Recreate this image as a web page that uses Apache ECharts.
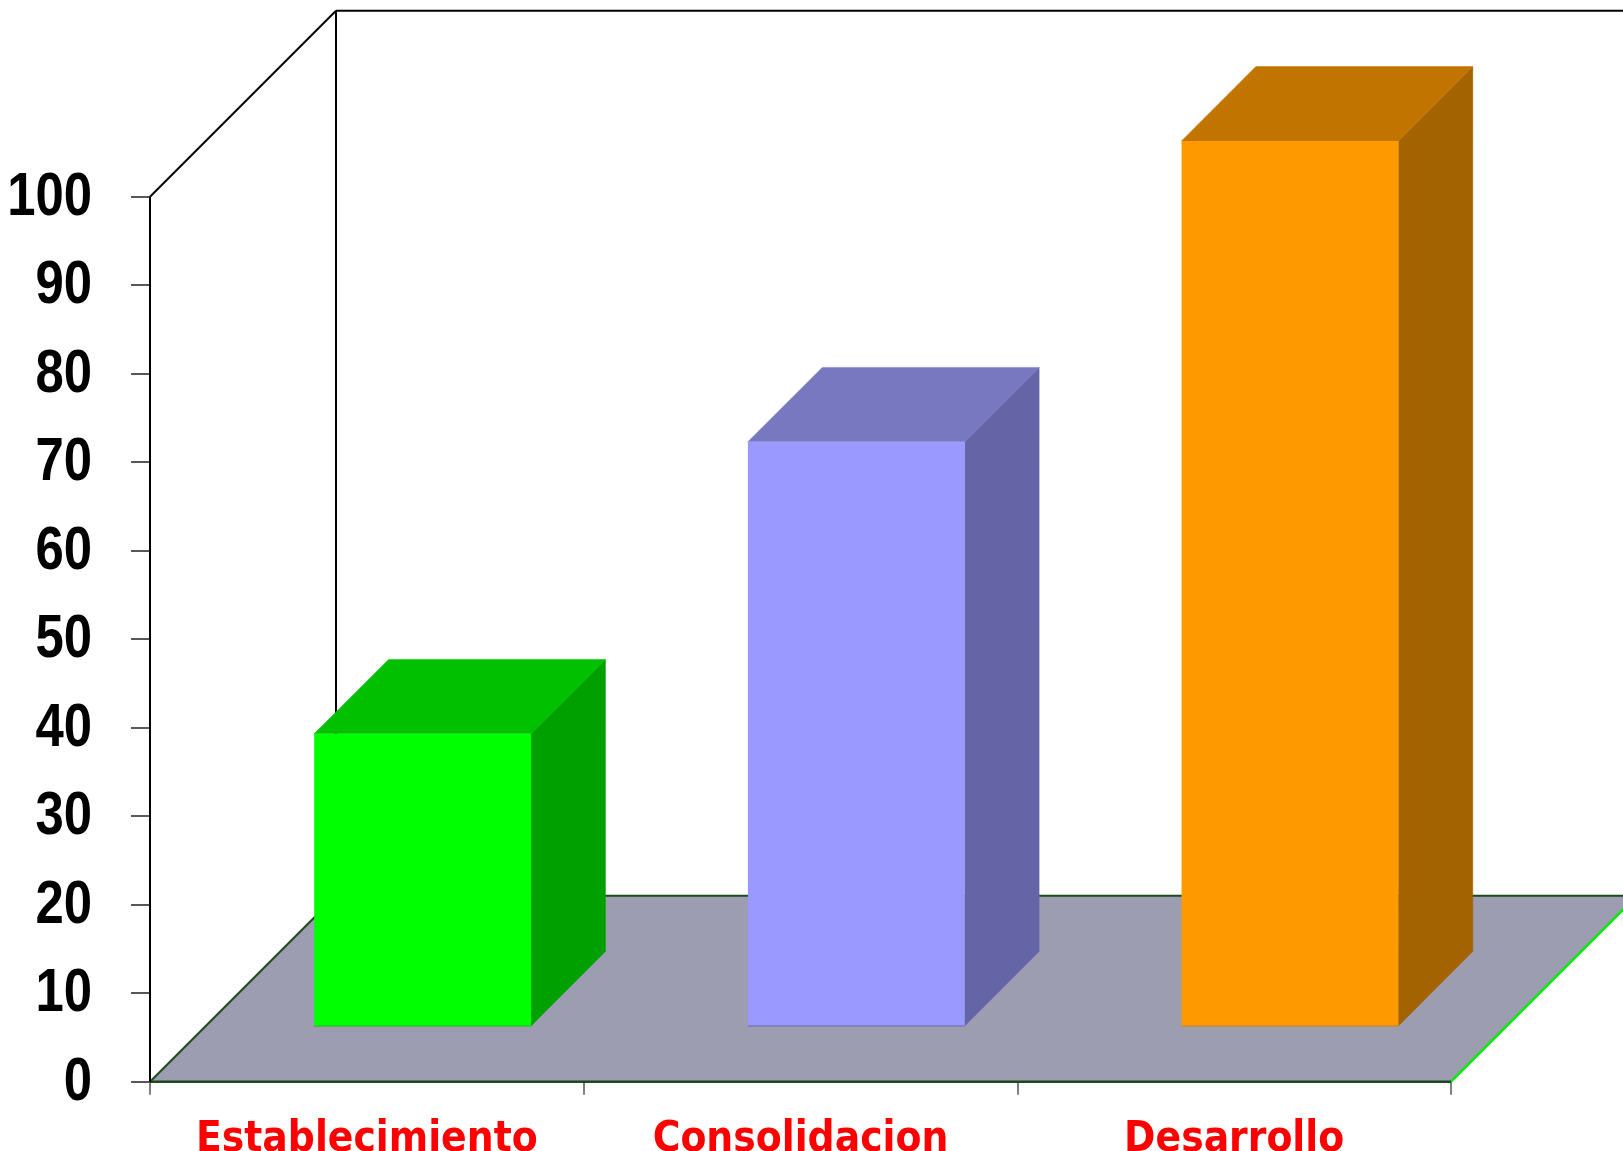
<!DOCTYPE html>
<html>
<head>
<meta charset="utf-8">
<script src="https://cdn.jsdelivr.net/npm/echarts@6/dist/echarts.min.js"></script>
<style>
  html, body { margin: 0; padding: 0; background: #ffffff; }
  #chart { width: 1623px; height: 1151px; }
</style>
</head>
<body>
<div id="chart"></div>
<script>
// ---- data ----
const categories = ['Establecimiento', 'Consolidacion', 'Desarrollo'];
const values = [33, 66, 100];
const yTicks = [0, 10, 20, 30, 40, 50, 60, 70, 80, 90, 100];

// ---- style ----
const DEPTH = 186;          // floor / wall depth in px (45° projection)
const BAR_FRONT = 0.3;      // bar front offset as fraction of depth
const BAR_DEPTH = 0.4;      // bar depth as fraction of depth
const BAR_WIDTH = 0.5;      // bar width as fraction of band
const Y_LABEL_GAP = 58;
const faceColors = [
  { front: '#00FF00', top: '#00C000', side: '#00A000', edge: '#22c822' },
  { front: '#9999FF', top: '#7878C0', side: '#6464A6', edge: '#7a7ab8' },
  { front: '#FF9900', top: '#C27400', side: '#A36300', edge: '#c88a30' }
];

const chart = echarts.init(document.getElementById('chart'));

function renderFrame(params, api) {
  const band = api.size([1, 0])[0];
  const p0 = api.coord([0, 0]);
  const pTop = api.coord([0, yTicks[yTicks.length - 1]]);
  const pLast = api.coord([categories.length - 1, 0]);
  const xl = p0[0] - band / 2;
  const xr = pLast[0] + band / 2;
  const yb = p0[1];
  const yt = pTop[1];
  const D = DEPTH;
  const dark = '#000000';
  const floorEdge = '#1b4a1b';
  return {
    type: 'group',
    children: [
      { type: 'polygon', shape: { points: [[xl, yb], [xr, yb], [xr + D, yb - D], [xl + D, yb - D]] },
        style: { fill: '#9C9DB0', stroke: null }, z2: 1 },
      // walls
      { type: 'line', shape: { x1: xl + D, y1: yt - D, x2: xl + D, y2: yb - D }, style: { stroke: dark, lineWidth: 2 }, z2: 0 },
      { type: 'line', shape: { x1: xl + D, y1: yt - D, x2: xr + D, y2: yt - D }, style: { stroke: dark, lineWidth: 2 }, z2: 0 },
      { type: 'line', shape: { x1: xl, y1: yt, x2: xl + D, y2: yt - D }, style: { stroke: dark, lineWidth: 2 }, z2: 0 },
      { type: 'line', shape: { x1: xl, y1: yt, x2: xl, y2: yb }, style: { stroke: dark, lineWidth: 2 }, z2: 3 },
      // floor edges
      { type: 'line', shape: { x1: xl + D, y1: yb - D, x2: xr + D, y2: yb - D }, style: { stroke: floorEdge, lineWidth: 2 }, z2: 2 },
      { type: 'line', shape: { x1: xl, y1: yb, x2: xl + D, y2: yb - D }, style: { stroke: floorEdge, lineWidth: 2 }, z2: 2 },
      { type: 'line', shape: { x1: xr, y1: yb, x2: xr + D, y2: yb - D }, style: { stroke: '#00EE00', lineWidth: 2.5 }, z2: 2 },
      { type: 'line', shape: { x1: xl, y1: yb, x2: xr, y2: yb }, style: { stroke: floorEdge, lineWidth: 2.5 }, z2: 2 }
    ]
  };
}

function renderBar(params, api) {
  const idx = api.value(0);
  const val = api.value(1);
  const band = api.size([1, 0])[0];
  const base = api.coord([idx, 0]);
  const top = api.coord([idx, val]);
  const f = DEPTH * BAR_FRONT;
  const d = DEPTH * BAR_DEPTH;
  const w = band * BAR_WIDTH;
  const x0 = base[0] - w / 2 + f;
  const x1 = base[0] + w / 2 + f;
  const yB = base[1] - f;
  const yT = top[1] - f;
  const c = faceColors[params.dataIndex % faceColors.length];
  return {
    type: 'group',
    children: [
      { type: 'polygon', shape: { points: [[x1, yB], [x1 + d, yB - d], [x1 + d, yT - d], [x1, yT]] },
        style: { fill: c.side, stroke: c.side, lineWidth: 0.5 } },
      { type: 'polygon', shape: { points: [[x0, yT], [x1, yT], [x1 + d, yT - d], [x0 + d, yT - d]] },
        style: { fill: c.top, stroke: c.top, lineWidth: 0.5 } },
      { type: 'rect', shape: { x: x0, y: yT, width: x1 - x0, height: yB - yT },
        style: { fill: c.front, stroke: null } },
      { type: 'line', shape: { x1: x0, y1: yB, x2: x1, y2: yB }, style: { stroke: c.edge, lineWidth: 1.5 } }
    ]
  };
}

// y-axis tick labels, condensed (narrow bold) look
function renderYLabel(params, api) {
  const v = api.value(0);
  const band = api.size([1, 0])[0];
  const p = api.coord([0, v]);
  const xAxisLeft = p[0] - band / 2;
  return {
    type: 'text',
    x: xAxisLeft - Y_LABEL_GAP,
    y: p[1] + 1,
    scaleX: 0.82,
    style: {
      text: String(v),
      x: 0, y: 0,
      align: 'right',
      verticalAlign: 'middle',
      fill: '#000000',
      font: "bold 62px 'Liberation Sans', Arial, sans-serif"
    }
  };
}

chart.setOption({
  backgroundColor: '#ffffff',
  animation: false,
  grid: { left: 150, top: 196.7, width: 1301, height: 885, containLabel: false, outerBoundsMode: 'none' },
  xAxis: {
    type: 'category',
    data: categories,
    boundaryGap: true,
    axisLine: { show: false },
    axisTick: { show: true, length: 13, lineStyle: { color: '#555555', width: 1.5 } },
    axisLabel: {
      color: '#FF0000', fontFamily: "'DejaVu Sans Condensed', 'DejaVu Sans', sans-serif", fontWeight: 'bold',
      fontSize: 42, margin: 37, interval: 0
    },
    splitLine: { show: false }
  },
  yAxis: {
    type: 'value',
    min: yTicks[0],
    max: yTicks[yTicks.length - 1],
    interval: 10,
    axisLine: { show: false },
    axisTick: { show: true, length: 19, lineStyle: { color: '#222222', width: 1.5 } },
    axisLabel: { show: false },
    splitLine: { show: false }
  },
  series: [
    { type: 'custom', renderItem: renderFrame, data: [[0, 0]], z: 1, silent: true, clip: false },
    { type: 'custom', renderItem: renderBar, z: 3, clip: false,
      data: values.map((v, i) => [i, v]) },
    { type: 'custom', renderItem: renderYLabel, z: 4, clip: false, silent: true,
      encode: { y: 0 }, dimensions: ['tick'],
      data: yTicks.map(v => [v]) }
  ]
});
</script>
</body>
</html>
